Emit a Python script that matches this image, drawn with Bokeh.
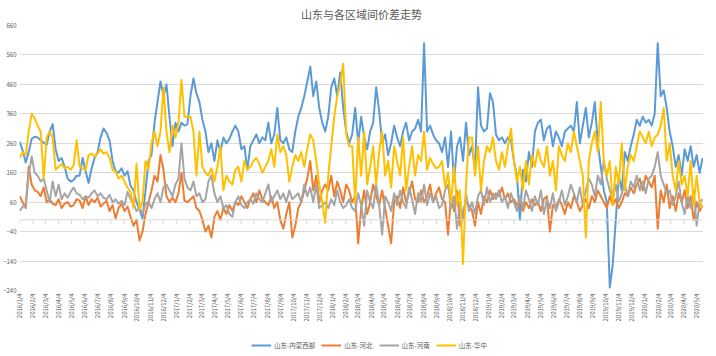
import pandas as pd
from math import pi
from bokeh.plotting import figure
from bokeh.layouts import column
from bokeh.models import (Range1d, FixedTicker, Legend, LegendItem, Span,
                          CustomJSTickFormatter, ColumnDataSource)
from bokeh.embed import file_html
from bokeh.resources import INLINE

# ---------------- data (weekly readings, from 2016-01-04) ----------------
start_date = "2016-01-04"
n_points = 229
names = ["山东-内蒙西部", "山东-河北", "山东-河南", "山东-华中"]

neimeng = [
    265, 235, 195, 230, 275, 282, 280, 270, 262, 255,
    300, 325, 240, 200, 210, 180, 140, 130, 135, 150,
    150, 210, 165, 125, 175, 210, 230, 280, 310, 295,
    270, 200, 165, 160, 175, 150, 165, 115, 100, 60,
    35, 5, 100, 200, 220, 330, 400, 470, 420, 460,
    350, 250, 330, 300, 330, 320, 325, 420, 480, 430,
    400, 340, 300, 230, 260, 200, 270, 230, 280, 260,
    275, 300, 320, 300, 240, 250, 170, 250, 270, 290,
    260, 280, 270, 330, 260, 290, 380, 270, 260, 280,
    240, 230, 300, 350, 380, 420, 470, 520, 420, 470,
    380, 330, 300, 350, 450, 480, 420, 500, 380, 300,
    260, 290, 380, 260, 350, 280, 240, 300, 330, 450,
    370, 260, 290, 220, 260, 320, 280, 250, 300, 330,
    270, 300, 310, 340, 300, 600, 300, 320, 290, 270,
    260, 230, 280, 180, 300, 130, 250, 280, 200, 330,
    220, 250, 170, 450, 320, 300, 310, 430, 400, 290,
    270, 280, 260, 280, 270, 200, 150, 0, 170, 130,
    230, 180, 300, 330, 340, 270, 310, 320, 250, 300,
    280, 250, 300, 310, 320, 300, 400, 260, 320, 380,
    280, 330, 400, 260, 180, 100, 60, -230, -150, 0,
    150, 100, 230, 200, 250, 290, 340, 320, 350, 330,
    340, 320, 360, 600, 420, 440, 380, 300, 250, 180,
    220, 150, 240, 200, 250, 180, 220, 160, 210,
]

hebei = [
    80, 60, 40, 180, 120, 100, 95, 80, 110, 60,
    70, 55, 50, 70, 40, 55, 60, 45, 50, 70,
    65, 40, 80, 50, 70, 60, 75, 45, 55, 65,
    30, 50, 5, 40, 55, 30, 45, 10, -20, 0,
    -70, -40, 20, 60, 100, 150, 130, 220, 170, 80,
    60, 75, 60, 90, 160, 65, 60, 70, 80, 40,
    30, 0, -40, -20, -60, 10, 30, 0, 40, 20,
    50, 30, 60, 50, 80, 60, 40, 70, 90, 60,
    100, 70, 60, 50, 80, 40, 60, 0, -30, 20,
    60, -60, -20, 40, 60, 100, 140, 200, 100, 150,
    60, 100, 120, 100, 150, 80, 130, 100, 60, 120,
    100, 60, 80, -80, 40, 100, 20, 60, 120, 80,
    50, 100, 40, -20, -80, 60, 80, 40, 110, 60,
    90, 130, 70, 60, 100, 60, 80, 120, 60, 90,
    110, 70, 60, -50, 80, 30, 100, -20, 30, 60,
    50, 30, -20, 60, 20, 80, 60, 100, 70, 90,
    80, 110, 70, 90, 60, 70, 50, 60, 30, 60,
    40, 70, 50, 60, 30, 70, 80, -40, 50, 40,
    70, 50, 20, 60, 40, 80, 60, 30, 50, 70,
    40, 80, 60, 100, 80, 60, 40, 80, 50, 70,
    40, 60, 90, 80, 110, 90, 120, 140, 100, 150,
    130, 110, 150, -30, 100, 60, 120, 40, 80, 30,
    90, 60, 100, 40, 80, 0, 60, 30, 50,
]

henan = [
    30, 45, 50, 150, 215, 160, 150, 130, 140, 100,
    60, 130, 80, 120, 70, 90, 75, 95, 110, 90,
    85, 70, 80, 75, 90, 100, 80, 90, 75, 70,
    85, 60, 70, 55, 65, 50, 95, 70, 55, 30,
    40, 20, 55, 60, 40, 70, 90, 60, 110, 120,
    100, 80, 120, 140, 260, 140, 110, 100, 130, 80,
    90, 60, 70, 130, 150, 90, 60, 80, 40, 50,
    20, 10, 60, 80, 50, 40, 60, 70, 55, 90,
    70, 60, 90, 120, 60, 80, 100, 70, 90, 60,
    100, 70, 80, 90, 60, 120, 80, 110, 60, 120,
    40, 50, 60, 40, 70, 50, 100, 60, 40, 50,
    70, 40, 30, 90, 50, -20, 100, 60, 40, 120,
    50, -50, 80, 60, 30, 90, 50, 100, 60, 40,
    110, 70, 20, 90, 60, 120, 50, 90, 60, 80,
    40, 50, 100, 120, 40, 80, -30, 60, 0, 90,
    30, 60, 20, 80, 100, 50, 110, 60, 90, 70,
    100, 60, 80, 40, 90, 60, 30, 80, 40, 100,
    70, 30, 80, 50, 100, 20, 70, 40, 90, 30,
    60, 100, 50, 80, 120, 90, 60, 110, 50, 100,
    140, 120, 80, 150, 120, 200, 140, 100, 70, 120,
    60, 90, 120, 80, 130, 110, 150, 100, 130, 90,
    140, 150, 180, 230, 150, 120, 90, 100, 50, 80,
    130, 60, 20, 80, 40, 100, -20, 60, 70,
]

huazhong = [
    210, 230, 220, 300, 360, 345, 320, 300, 140, 280,
    300, 280, 170, 180, 190, 175, 180, 170, 185, 270,
    180, 175, 170, 220, 225, 215, 225, 240, 225, 230,
    210, 170, 165, 140, 150, 130, 110, 95, 40, 190,
    35, 60, 200, 170, 260, 300, 250, 300, 450, 300,
    230, 320, 280, 330, 475, 350, 350, 350, 300, 150,
    300, 180, 160, 150, 175, 130, 180, 250, 100, 150,
    130, 120, 170, 180, 130, 200, 170, 180, 200, 210,
    190, 160, 180, 200, 240, 180, 290, 230, 250, 220,
    130, 180, 220, 200, 230, 180, 240, 290, 270, 200,
    120, 60, -10, 150, 250, 350, 420, 460, 530, 290,
    250, 250, 60, 280, 150, 300, 120, 180, 250, 120,
    230, 300, 150, 200, 110, 250, 200, 150, 280, 100,
    180, 250, 150, 220, 200, 300, 170, 210, 190, 175,
    180, 200, 110, 160, 60, 180, 50, 100, -150, 120,
    280, 280, 150, 250, 100, 200, 250, 230, 280, 200,
    170, 230, 180, 250, 310, 200, 130, 180, 100, 200,
    120, 220, 180, 240, 200, 180, 250, 150, 200, 100,
    250, 220, 200, 260, 230, 300, 250, 200, 150, -60,
    200, 260, 300, 230, 400, 200, 150, 200, 50, 180,
    120, 260, 100, 180, 220, 200, 250, 300, 280, 260,
    300, 250, 280, 290, 320, 380, 200, 260, 150, 100,
    200, 120, 150, 80, 200, 50, 150, 60, 40,
]

y_ticks = [-240, -140, -40, 60, 160, 260, 360, 460, 560, 660]
tick_month_from = "2016-01-01"
tick_month_to = "2020-05-01"
tick_day_offset = 3          # ticks fall on the 4th of each month
x_start = "2016-01-03 12:00"
x_end = "2020-05-20"

colors = ["#5B9BD5", "#ED7D31", "#A5A5A5", "#FFC000"]
series = [neimeng, hebei, henan, huazhong]

# ---------------- build ----------------
dates = pd.date_range(start_date, periods=n_points, freq="7D")
tick_dates = (pd.date_range(tick_month_from, tick_month_to, freq="MS")
              + pd.Timedelta(days=tick_day_offset))
tick_ms = [d.timestamp() * 1000 for d in tick_dates]

CJK = "Noto Sans CJK SC"
TXT = "#595959"

p = figure(frame_width=684, frame_height=265, x_axis_type="datetime",
           x_range=Range1d(pd.Timestamp(x_start), pd.Timestamp(x_end)),
           y_range=Range1d(-240, 660),
           output_backend="svg", toolbar_location=None,
           title="山东与各区域间价差走势",
           min_border_left=0, min_border_right=0, min_border_top=0,
           min_border_bottom=0)
p.outline_line_color = None
p.background_fill_color = "white"

p.title.align = "center"
p.title.text_font = CJK
p.title.text_font_size = "11px"
p.title.text_font_style = "normal"
p.title.text_color = TXT
p.title.standoff = 7
p.title.offset = 0

# axes
p.yaxis.ticker = FixedTicker(ticks=y_ticks)
p.ygrid.ticker = FixedTicker(ticks=y_ticks)
p.ygrid.grid_line_color = "#D9D9D9"
p.xgrid.grid_line_color = None
for ax in (p.xaxis[0], p.yaxis[0]):
    ax.axis_line_color = None
    ax.major_tick_line_color = None
    ax.minor_tick_line_color = None
    ax.major_tick_out = 0
    ax.major_tick_in = 0
    ax.major_label_text_color = TXT
    ax.major_label_text_font = CJK
    ax.major_label_text_font_size = "6px"
p.yaxis.major_label_standoff = 3
p.xaxis.ticker = FixedTicker(ticks=tick_ms)
p.xaxis.formatter = CustomJSTickFormatter(code="""
    const d = new Date(tick);
    return d.getUTCFullYear() + '/' + (d.getUTCMonth() + 1) + '/' + d.getUTCDate();
""")
p.xaxis.major_label_orientation = pi / 2
p.xaxis.major_label_standoff = 3

# category axis line at 0 with tick marks
p.add_layout(Span(location=0, dimension="width", line_color="#D9D9D9", line_width=1))
p.segment(x0=list(tick_dates), y0=[0] * len(tick_dates),
          x1=list(tick_dates), y1=[-14] * len(tick_dates),
          line_color="#D9D9D9", line_width=1)

for name, vals, c in zip(names, series, colors):
    src = ColumnDataSource(dict(x=dates, y=vals))
    p.line("x", "y", source=src, line_color=c, line_width=2, line_join="round")

# ---------------- legend strip below the chart ----------------
leg = figure(width=700, height=36, x_range=Range1d(0, 1), y_range=Range1d(0, 1),
             x_axis_location=None, y_axis_location=None,
             output_backend="svg", toolbar_location=None,
             min_border_left=0, min_border_right=0, min_border_top=0,
             min_border_bottom=0)
leg.outline_line_color = None
leg.grid.visible = False
items = []
for name, c in zip(names, colors):
    # placeholder line lying outside the visible range: only its legend swatch shows
    r = leg.line(x=[-5, -4], y=[-5, -4], line_color=c, line_width=2)
    items.append(LegendItem(label=name, renderers=[r]))
legend = Legend(items=items, orientation="horizontal", location=(232, 10),
                label_text_font=CJK, label_text_font_size="6.5px",
                label_text_color=TXT, glyph_width=20, glyph_height=8,
                label_height=10, label_standoff=3, spacing=6, padding=0,
                margin=0, border_line_color=None, background_fill_alpha=0)
leg.add_layout(legend)

layout = column(p, leg, spacing=0)
open("out.html", "w").write(file_html(layout, INLINE))
